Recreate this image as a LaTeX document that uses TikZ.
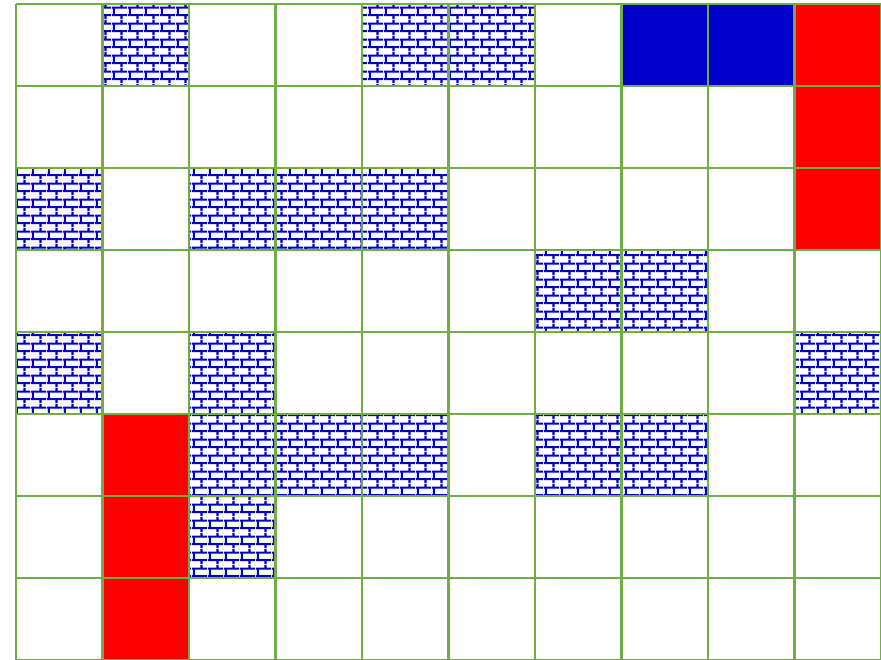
\documentclass[tikz,border=0pt]{standalone}
\usepackage{tikz}
\usetikzlibrary{patterns.meta}

\definecolor{gridgreen}{HTML}{70AD47}
\definecolor{wallblue}{HTML}{0000CC}
\definecolor{routered}{HTML}{FF0000}

% brick wall tile, 16pt x 16pt
\tikzdeclarepattern{
  name=brickwall,
  type=uncolored,
  bounding box={(0pt,0pt) and (16pt,16pt)},
  tile size={(16pt,16pt)},
  code={
    \pgfsetlinewidth{2.2pt}
    \pgfpathmoveto{\pgfpoint{0pt}{4pt}}\pgfpathlineto{\pgfpoint{16pt}{4pt}}
    \pgfpathmoveto{\pgfpoint{0pt}{12pt}}\pgfpathlineto{\pgfpoint{16pt}{12pt}}
    \pgfpathmoveto{\pgfpoint{2pt}{4pt}}\pgfpathlineto{\pgfpoint{2pt}{12pt}}
    \pgfpathmoveto{\pgfpoint{10pt}{12pt}}\pgfpathlineto{\pgfpoint{10pt}{16pt}}
    \pgfpathmoveto{\pgfpoint{10pt}{0pt}}\pgfpathlineto{\pgfpoint{10pt}{4pt}}
    \pgfusepath{stroke}
  }
}

\begin{document}
\begin{tikzpicture}[x=86.5pt,y=-82pt,
  wall/.style={pattern={brickwall},pattern color=wallblue},
  goal/.style={fill=wallblue},
  route/.style={fill=routered},
  gridline/.style={draw=gridgreen,line width=2.5pt}]
\useasboundingbox (-16pt,4pt) rectangle (865pt,-655pt);
% ---- walls ----
\foreach \c/\r in {1/0,4/0,5/0, 0/2,2/2,3/2,4/2, 6/3,7/3, 0/4,2/4,9/4,
                   2/5,3/5,4/5,6/5,7/5, 2/6}
  \fill[wall] (\c,\r) rectangle ++(1,1);
% ---- goal cells ----
\foreach \c/\r in {7/0,8/0}
  \fill[goal] (\c,\r) rectangle ++(1,1);
% ---- red route ----
\foreach \c/\r in {9/0,9/1,9/2, 1/5,1/6,1/7}
  \fill[route] (\c,\r) rectangle ++(1,1);
% ---- grid ----
\foreach \c in {0,...,10}
  \draw[gridline] (\c,0) -- (\c,8);
\foreach \r in {0,...,8}
  \draw[gridline] (0,\r) -- (10,\r);
\end{tikzpicture}
\end{document}
